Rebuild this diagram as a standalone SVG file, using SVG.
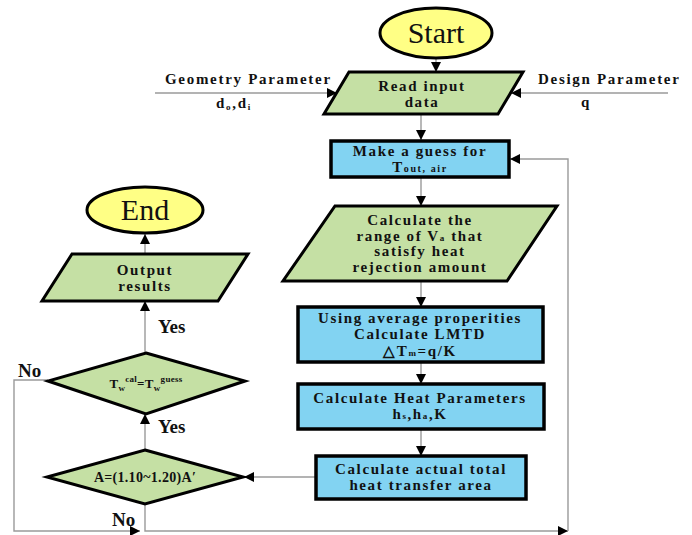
<svg xmlns="http://www.w3.org/2000/svg" width="692" height="535" viewBox="0 0 692 535">
<defs>
<marker id="ah" viewBox="0 0 10 10" refX="10" refY="5" markerWidth="10" markerHeight="10" markerUnits="userSpaceOnUse" orient="auto">
<path d="M0,0 L10,5 L0,10 z" fill="#000"/>
</marker>
</defs>
<style>
.g{fill:#c5e0a4;stroke:#000;stroke-width:3}
.b{fill:#82d3f2;stroke:#000;stroke-width:3.5}
.y{fill:#ffff85;stroke:#000;stroke-width:3}
.c{fill:none;stroke:#9a9a9a;stroke-width:1.4}
.t{font-family:"Liberation Serif","Times New Roman",serif;font-weight:bold;font-size:15px;letter-spacing:1.6px;text-anchor:middle;fill:#111}
.l{font-family:"Liberation Serif","Times New Roman",serif;font-weight:bold;font-size:15px;letter-spacing:1.7px;fill:#111}
.big{font-family:"Liberation Serif","Times New Roman",serif;font-size:30px;text-anchor:middle;fill:#111}
.yn{font-family:"Liberation Serif","Times New Roman",serif;font-weight:bold;font-size:19px;fill:#111}
</style>
<rect width="692" height="535" fill="#fff"/>
<g id="connectors">
<line class="c" x1="436" y1="58" x2="436" y2="72" marker-end="url(#ah)"/>
<line class="c" x1="155" y1="93" x2="337" y2="93" marker-end="url(#ah)"/>
<line class="c" x1="668" y1="93" x2="511" y2="93" marker-end="url(#ah)"/>
<line class="c" x1="421" y1="114" x2="421" y2="140" marker-end="url(#ah)"/>
<line class="c" x1="421" y1="177" x2="421" y2="206" marker-end="url(#ah)"/>
<line class="c" x1="421" y1="281" x2="421" y2="307" marker-end="url(#ah)"/>
<line class="c" x1="421" y1="362" x2="421" y2="384" marker-end="url(#ah)"/>
<line class="c" x1="421" y1="429" x2="421" y2="456" marker-end="url(#ah)"/>
<line class="c" x1="316" y1="477" x2="244" y2="477" marker-end="url(#ah)"/>
<line class="c" x1="145" y1="450" x2="145" y2="414" marker-end="url(#ah)"/>
<line class="c" x1="145" y1="353" x2="145" y2="301" marker-end="url(#ah)"/>
<line class="c" x1="145" y1="254" x2="145" y2="234" marker-end="url(#ah)"/>
<polyline class="c" points="48,380 14,380 14,531 140,531" marker-end="url(#ah)"/>
<polyline class="c" points="145,504 145,531 568,531" marker-end="url(#ah)"/>
<polyline class="c" points="568,531 568,159 510,159" marker-end="url(#ah)"/>
</g>
<g id="start">
<ellipse class="y" cx="436" cy="33" rx="56" ry="25"/>
<text class="big" x="436" y="43">Start</text>
</g>
<g id="geometry">
<text class="l" x="165" y="84">Geometry Parameter</text>
<text class="l" x="216" y="108">d<tspan font-size="9" dy="2">o</tspan><tspan dy="-2">,d</tspan><tspan font-size="9" dy="2">i</tspan></text>
</g>
<g id="design">
<text class="l" x="538" y="84">Design Parameter</text>
<text class="l" x="581" y="107">q</text>
</g>
<g id="read">
<polygon class="g" points="349,72 523,72 498,114 324,114"/>
<text class="t" x="422" y="91">Read input</text>
<text class="t" x="422" y="107">data</text>
</g>
<g id="guess">
<rect class="b" x="331" y="141" width="178" height="36"/>
<text class="t" x="420" y="156">Make a guess for</text>
<text class="t" x="420" y="172">T<tspan font-size="10">out, air</tspan></text>
</g>
<g id="range">
<polygon class="g" points="335,206 557,206 507,281 283,281"/>
<text class="t" x="420" y="225">Calculate the</text>
<text class="t" x="420" y="241">range of V<tspan font-size="9">a</tspan> that</text>
<text class="t" x="420" y="256">satisfy heat</text>
<text class="t" x="420" y="272">rejection amount</text>
</g>
<g id="lmtd">
<rect class="b" x="298" y="307" width="245" height="55"/>
<text class="t" x="420" y="323">Using average properities</text>
<text class="t" x="420" y="339">Calculate LMTD</text>
<text class="t" x="420" y="356">△T<tspan font-size="9">m</tspan>=q/K</text>
</g>
<g id="heat">
<rect class="b" x="298" y="384" width="246" height="45"/>
<text class="t" x="420" y="403">Calculate Heat Parameters</text>
<text class="t" x="420" y="419">h<tspan font-size="9">s</tspan>,h<tspan font-size="9">a</tspan>,K</text>
</g>
<g id="area">
<rect class="b" x="316" y="456" width="210" height="43"/>
<text class="t" x="421" y="474">Calculate actual total</text>
<text class="t" x="421" y="490">heat transfer area</text>
</g>
<g id="diamondA">
<polygon class="g" points="145,450 243,477 145,504 47,477"/>
<text class="t" x="145" y="482" style="font-size:14px;letter-spacing:0.3px">A=(1.10~1.20)A′</text>
</g>
<g id="diamondT">
<polygon class="g" points="146,353 245,381 146,414 48,381"/>
<text class="t" x="146" y="388" style="font-size:13px;letter-spacing:0.3px">T<tspan font-size="9" dy="3">w</tspan><tspan font-size="9" dy="-9">cal</tspan><tspan dy="6">=T</tspan><tspan font-size="9" dy="3">w</tspan><tspan font-size="9" dy="-9">guess</tspan></text>
</g>
<g id="output">
<polygon class="g" points="72,254 248,254 218,301 42,301"/>
<text class="t" x="145" y="275">Output</text>
<text class="t" x="145" y="291">results</text>
</g>
<g id="end">
<ellipse class="y" cx="145" cy="210" rx="58" ry="23"/>
<text class="big" x="145" y="220">End</text>
</g>
<g id="labels">
<text class="yn" x="158" y="333">Yes</text>
<text class="yn" x="158" y="433">Yes</text>
<text class="yn" x="18" y="377">No</text>
<text class="yn" x="112" y="526">No</text>
</g>
</svg>
